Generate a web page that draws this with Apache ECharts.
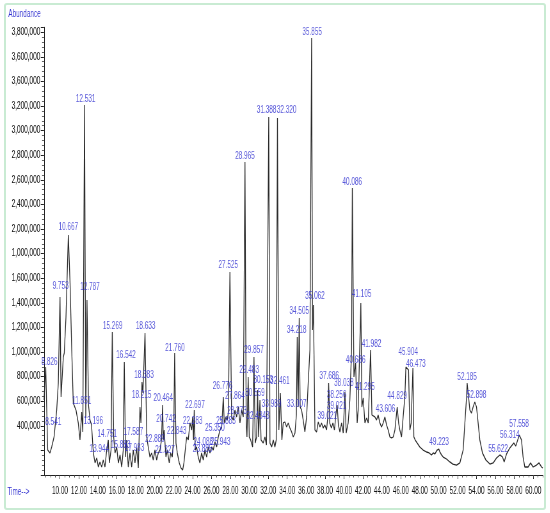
<!DOCTYPE html>
<html>
<head>
<meta charset="utf-8">
<script src="https://cdn.jsdelivr.net/npm/echarts@6.0.0/dist/echarts.min.js"></script>
<style>
html, body { margin: 0; padding: 0; width: 550px; height: 513px; overflow: hidden; background: #fff; }
#wrap { position: relative; width: 550px; height: 513px; overflow: hidden; }
/* the source picture is squeezed sideways, text included, so the chart is drawn wide and squeezed */
#chart { position: absolute; left: 0; top: 0; width: 859px; height: 513px; transform: scaleX(0.64); transform-origin: 0 0; }
#frame { position: absolute; left: 4px; top: 3px; width: 538px; height: 503px; border: 2px solid #c9ebd3; border-radius: 3px; pointer-events: none; }
</style>
</head>
<body>
<div id="wrap"><div id="chart"></div><div id="frame"></div></div>
<script>
const SX = 0.64

// retention time (min) and abundance of the traced chromatogram
const times = [
	8.31, 8.49, 8.70, 8.94, 9.12, 9.37, 9.65, 9.82, 10.00, 10.11,
	10.35, 10.45, 10.63, 10.88, 11.06, 11.24, 11.40, 11.69, 11.93, 12.11,
	12.29, 12.41, 12.59, 12.72, 12.85, 13.01, 13.17, 13.33, 13.52, 13.70,
	13.88, 14.05, 14.22, 14.40, 14.57, 14.75, 14.93, 15.10, 15.21, 15.39,
	15.52, 15.67, 15.81, 15.99, 16.16, 16.34, 16.52, 16.68, 16.79, 16.92,
	17.04, 17.21, 17.39, 17.57, 17.74, 17.92, 18.10, 18.27, 18.45, 18.55,
	18.66, 18.76, 18.98, 19.16, 19.32, 19.50, 19.68, 19.85, 20.03, 20.21,
	20.38, 20.56, 20.72, 20.84, 20.91, 21.00, 21.19, 21.33, 21.54, 21.69,
	21.86, 22.01, 22.11, 22.25, 22.39, 22.60, 22.78, 22.96, 23.09, 23.23,
	23.38, 23.55, 23.73, 23.91, 24.01, 24.10, 24.18, 24.29, 24.43, 24.60,
	24.78, 24.96, 25.13, 25.31, 25.49, 25.66, 25.84, 26.02, 26.19, 26.37,
	26.55, 26.72, 26.90, 27.08, 27.25, 27.35, 27.53, 27.67, 27.79, 27.95,
	28.13, 28.30, 28.48, 28.66, 28.83, 29.01, 29.19, 29.36, 29.54, 29.67,
	29.75, 29.88, 29.99, 30.14, 30.35, 30.49, 30.62, 30.77, 30.87, 30.98,
	31.12, 31.24, 31.47, 31.65, 31.81, 32.05, 32.18, 32.36, 32.53, 32.70,
	32.84, 32.97, 33.12, 33.28, 33.44, 33.58, 33.76, 33.94, 34.11, 34.29,
	34.47, 34.64, 34.82, 34.97, 35.06, 35.16, 35.27, 35.37, 35.52, 35.69,
	35.87, 36.05, 36.22, 36.40, 36.58, 36.68, 36.77, 36.93, 37.11, 37.28,
	37.46, 37.63, 37.80, 37.98, 38.16, 38.28, 38.38, 38.49, 38.67, 38.83,
	38.99, 39.14, 39.28, 39.41, 39.57, 39.75, 39.92, 40.10, 40.23, 40.44,
	40.62, 40.80, 40.88, 41.05, 41.23, 41.39, 41.50, 41.78, 41.89, 42.03,
	42.21, 42.39, 42.56, 42.81, 42.95, 43.08, 43.26, 43.44, 43.61, 43.79,
	43.97, 44.14, 44.32, 44.50, 44.67, 44.85, 45.03, 45.20, 45.38, 45.62,
	45.77, 45.90, 46.08, 46.25, 46.43, 46.54, 46.67, 46.82, 46.96, 47.10,
	47.28, 47.38, 47.52, 47.73, 48.01, 48.36, 48.72, 49.00, 49.25, 49.42,
	49.60, 49.84, 50.02, 50.13, 50.31, 50.48, 50.83, 51.18, 51.50, 51.89,
	52.24, 52.59, 52.77, 52.95, 53.01, 53.16, 53.30, 53.47, 53.64, 53.82,
	54.00, 54.17, 54.35, 54.63, 54.99, 55.41, 55.76, 56.11, 56.47, 56.75,
	56.92, 57.17, 57.52, 57.94, 58.15, 58.52, 58.75, 58.92, 59.10, 59.45,
	59.71, 59.98, 60.34, 60.61, 60.87, 61.00,
]
const abundance = [
	610000, 878000, 203000, 179000, 228000, 309000, 528000, 748000, 1447000, 634000,
	959000, 992000, 1285000, 1951000, 1561000, 1016000, 585000, 528000, 423000, 285000,
	512000, 350000, 3008000, 463000, 1423000, 569000, 447000, 407000, 179000, 98000,
	138000, 65000, 106000, 65000, 122000, 65000, 203000, 285000, 98000, 203000,
	1163000, 309000, 179000, 228000, 98000, 163000, 65000, 203000, 919000, 146000,
	285000, 65000, 179000, 65000, 203000, 98000, 220000, 57000, 553000, 423000,
	756000, 667000, 1154000, 309000, 228000, 146000, 179000, 122000, 203000, 122000,
	179000, 203000, 285000, 569000, 285000, 366000, 146000, 203000, 98000, 179000,
	146000, 309000, 992000, 260000, 179000, 98000, 57000, 41000, 98000, 203000,
	309000, 285000, 423000, 366000, 472000, 285000, 528000, 203000, 228000, 146000,
	98000, 179000, 122000, 203000, 146000, 228000, 179000, 228000, 203000, 268000,
	228000, 309000, 366000, 390000, 634000, 423000, 472000, 447000, 512000, 1650000,
	472000, 447000, 528000, 472000, 553000, 423000, 528000, 472000, 2545000, 407000,
	309000, 797000, 309000, 285000, 228000, 959000, 260000, 309000, 691000, 309000,
	610000, 285000, 260000, 309000, 244000, 2911000, 260000, 228000, 285000, 228000,
	285000, 2902000, 366000, 667000, 285000, 423000, 431000, 390000, 423000, 382000,
	350000, 309000, 341000, 488000, 1122000, 553000, 1276000, 553000, 528000, 447000,
	350000, 472000, 748000, 1016000, 3553000, 1179000, 1382000, 366000, 350000, 431000,
	390000, 423000, 382000, 407000, 366000, 463000, 748000, 423000, 382000, 423000,
	366000, 488000, 569000, 407000, 350000, 423000, 341000, 675000, 341000, 423000,
	610000, 1016000, 2333000, 797000, 911000, 423000, 528000, 1398000, 553000, 626000,
	423000, 463000, 423000, 1016000, 488000, 504000, 472000, 447000, 488000, 423000,
	390000, 423000, 472000, 407000, 366000, 309000, 301000, 309000, 366000, 553000,
	423000, 366000, 309000, 472000, 634000, 878000, 894000, 854000, 366000, 423000,
	870000, 309000, 285000, 260000, 228000, 203000, 187000, 179000, 163000, 179000,
	171000, 203000, 211000, 187000, 163000, 146000, 130000, 106000, 89000, 81000,
	98000, 203000, 423000, 634000, 748000, 634000, 528000, 504000, 553000, 593000,
	553000, 423000, 285000, 179000, 122000, 89000, 98000, 138000, 163000, 146000,
	106000, 171000, 220000, 260000, 236000, 325000, 285000, 146000, 65000, 65000,
	98000, 65000, 81000, 98000, 65000, 57000,
]

// peak annotations: text and where it sits
const peakText = [
	'8.826', '8.541', '9.753', '10.667', '11.851', '12.531', '12.787', '13.196', '13.944', '14.751',
	'15.269', '15.883', '16.542', '17.587', '17.983', '18.215', '18.383', '18.633', '20.464', '20.742',
	'22.889', '21.327', '21.760', '22.843', '22.697', '22.283', '24.088', '23.885', '25.350', '25.943',
	'25.883', '26.776', '27.525', '27.864', '28.373', '28.965', '29.483', '29.857', '30.153', '30.559',
	'32.4343', '31.388', '32.320', '32.461', '33.989', '33.007', '34.218', '34.505', '35.855', '35.062',
	'37.686', '38.256', '39.021', '39.021', '38.038', '40.086', '40.686', '41.105', '41.295', '41.982',
	'43.606', '44.829', '45.904', '46.473', '49.223', '52.185', '52.898', '55.622', '56.314', '57.558',
]
const peakTime = [
	8.89, 9.29, 10.07, 10.88, 12.29, 12.71, 13.17, 13.52, 14.15, 14.99,
	15.56, 16.41, 16.97, 17.74, 17.87, 18.63, 18.87, 19.05, 20.91, 21.19,
	20.03, 21.09, 22.14, 22.32, 24.26, 24.01, 25.13, 25.07, 26.37, 26.97,
	27.53, 27.18, 27.77, 28.48, 28.69, 29.54, 29.99, 30.49, 31.47, 30.59,
	30.91, 31.83, 33.94, 33.23, 32.35, 35.00, 35.00, 35.27, 36.64, 36.93,
	38.44, 39.22, 39.22, 38.23, 39.99, 40.87, 41.23, 41.86, 42.21, 42.91,
	44.39, 45.62, 46.78, 47.59, 50.05, 53.01, 54.00, 56.28, 57.52, 58.50,
]
const peakAbund = [
	913000, 431000, 1531000, 2011000, 596000, 3057000, 1528000, 441000, 211000, 333000,
	1211000, 244000, 976000, 350000, 215000, 645000, 813000, 1206000, 626000, 455000,
	293000, 203000, 1033000, 358000, 569000, 441000, 263000, 211000, 382000, 263000,
	433000, 718000, 1702000, 642000, 520000, 2593000, 848000, 1016000, 772000, 664000,
	474000, 2967000, 2967000, 759000, 577000, 577000, 1179000, 1328000, 3596000, 1455000,
	799000, 650000, 555000, 474000, 748000, 2380000, 935000, 1469000, 715000, 1065000,
	537000, 637000, 1002000, 900000, 263000, 791000, 645000, 209000, 325000, 415000,
]

const xTicks = [10, 12, 14, 16, 18, 20, 22, 24, 26, 28, 30, 32, 34, 36, 38, 40, 42, 44, 46, 48, 50, 52, 54, 56, 58, 60]
// y tick texts from 400,000 upward, as printed on the source
const yTickText = [
	'400,000', '600,000', '800,000', '1,000,000', '1,200,000', '1,400,000', '1,600,000', '1,000,000', '2,000,000',
	'2,400,000', '2,600,000', '2,800,000', '3,000,000', '3,200,000', '3,600,000', '3,600,000', '3,800,000',
]

const trace = times.map((t, i) => [t, abundance[i]])
const peaks = peakText.map((s, i) => ({ name: s, value: [peakTime[i], peakAbund[i]] }))

let smallTicks = []
for (let v = 8.5; v <= 61; v += 0.5) smallTicks.push(+v.toFixed(1))

const font = 'Liberation Sans, Arial, sans-serif'
const blue = '#3030d0'

const chart = echarts.init(document.getElementById('chart'))
const option = {
	animation: false,
	grid: { left: 44 / SX, right: 7 / SX, top: 27.3, bottom: 38 },
	xAxis: [
		{
			type: 'value',
			min: 8.31,
			max: 61.0,
			axisLine: { show: true, lineStyle: { color: '#222', width: 1 } },
			axisTick: { show: true, length: 4, customValues: xTicks, lineStyle: { color: '#222' } },
			axisLabel: {
				customValues: xTicks,
				margin: 11,
				color: '#111',
				fontSize: 10,
				fontFamily: font,
				formatter: (v) => v.toFixed(2),
			},
			splitLine: { show: false },
		},
		{
			type: 'value',
			min: 8.31,
			max: 61.0,
			position: 'bottom',
			axisLine: { show: false },
			axisTick: { show: true, length: 2.5, customValues: smallTicks, lineStyle: { color: '#444' } },
			axisLabel: { show: false },
			splitLine: { show: false },
		},
	],
	yAxis: {
		type: 'value',
		min: 0,
		max: 3640000,
		interval: 200000,
		axisLine: { show: true, lineStyle: { color: '#222', width: 1 } },
		axisTick: { show: true, length: 5, lineStyle: { color: '#222' } },
		minorTick: { show: true, splitNumber: 5, length: 3, lineStyle: { color: '#555' } },
		axisLabel: {
			margin: 6,
			color: '#111',
			fontSize: 10,
			fontFamily: font,
			formatter: (v) => {
				let k = Math.round((v - 400000) / 200000)
				return k >= 0 && k < yTickText.length && v <= 3600000 ? yTickText[k] : ''
			},
		},
		splitLine: { show: false },
	},
	graphic: [
		{ type: 'text', x: 13, y: 14.5, style: { text: 'Abundance', fill: blue, fontSize: 10, fontFamily: font, verticalAlign: 'middle' } },
		{ type: 'text', x: 11.5, y: 492, style: { text: 'Time-->', fill: blue, fontSize: 10, fontFamily: font, verticalAlign: 'middle' } },
	],
	series: [
		{
			type: 'line',
			data: trace,
			showSymbol: false,
			lineStyle: { color: '#2a2a2a', width: 1.3 },
			z: 2,
		},
		{
			type: 'scatter',
			data: peaks,
			symbolSize: 1,
			itemStyle: { color: 'rgba(0,0,0,0)' },
			label: {
				show: true,
				position: 'inside',
				formatter: '{b}',
				color: blue,
				fontSize: 10,
				fontFamily: font,
			},
			z: 3,
		},
	],
}
chart.setOption(option)
</script>
</body>
</html>
